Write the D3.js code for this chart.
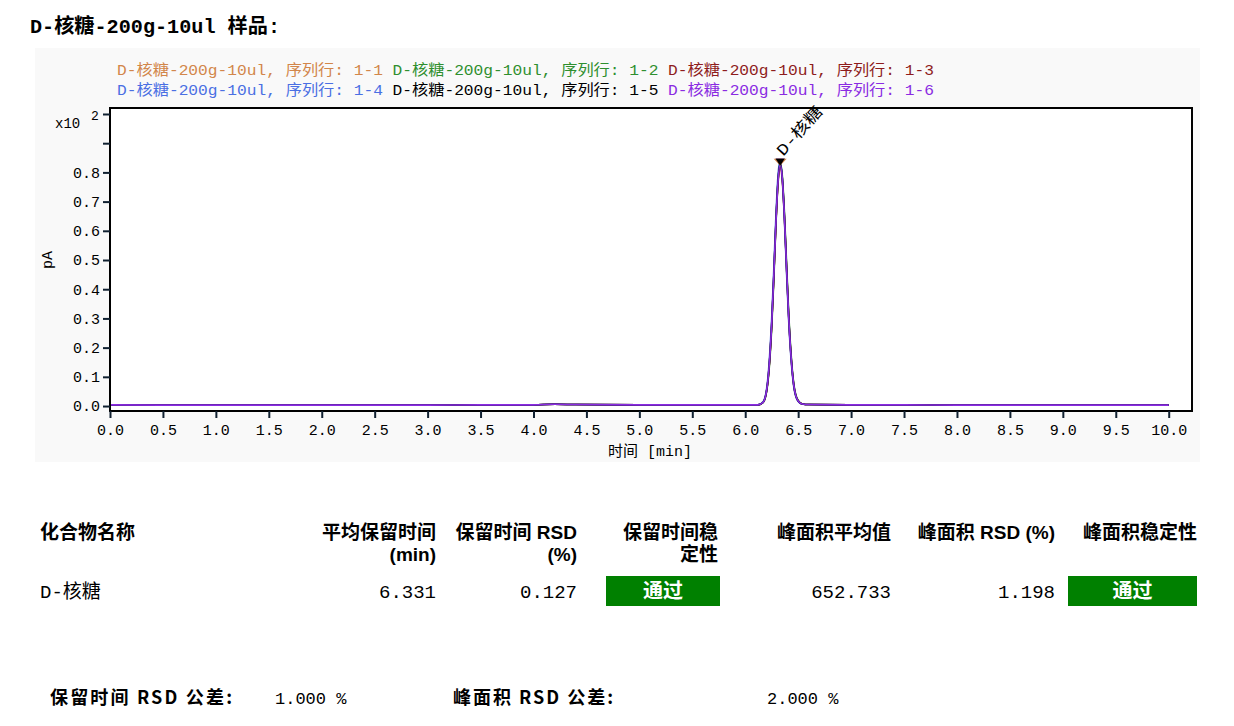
<!DOCTYPE html>
<html>
<head>
<meta charset="utf-8">
<script src="https://cdn.jsdelivr.net/npm/d3@7/dist/d3.min.js"></script>
<style>
  html, body { margin: 0; padding: 0; background: #fff; }
  svg { display: block; }
</style>
</head>
<body>
<div id="chart"></div>
<script>
// chromatogram overlay + stability table

const MONO = '"Liberation Mono", "Noto Sans CJK SC", monospace'
const CJK = '"Noto Sans CJK SC", "Liberation Sans", sans-serif'
const HEAD = '"Liberation Sans", "Noto Sans CJK SC", sans-serif'

// retention time axis (min)
const times = [0, 0.5, 1.0, 1.5, 2.0, 2.5, 3.0, 3.5, 4.0, 4.2, 4.4, 5.0, 5.5, 6.0,
  6.12, 6.17, 6.21, 6.25, 6.27, 6.29, 6.31, 6.33, 6.35, 6.37, 6.39, 6.41, 6.45, 6.49, 6.54, 6.6,
  7.0, 7.5, 8.0, 8.5, 9.0, 9.5, 10.0]

// signal (pA)
const run1 = [0.4, 0.3, 0.3, 0.3, 0.3, 0.3, 0.3, 0.4, 0.4, 0.6, 0.5, 0.4, 0.4, 0.4,
  0.4, 1.4, 7.6, 28.4, 45.0, 63.2, 77.2, 82.9, 77.9, 64.8, 47.4, 30.8, 9.6, 2.3, 0.7, 0.5,
  0.4, 0.4, 0.3, 0.3, 0.3, 0.3, 0.3]
const run2 = [0.4, 0.3, 0.3, 0.3, 0.3, 0.3, 0.3, 0.4, 0.4, 0.6, 0.5, 0.4, 0.4, 0.4,
  0.3, 1.2, 6.8, 26.5, 43.1, 61.9, 76.8, 83.4, 79.0, 66.6, 49.5, 32.6, 10.4, 2.6, 0.7, 0.5,
  0.4, 0.4, 0.3, 0.3, 0.3, 0.3, 0.3]
const run3 = [0.4, 0.3, 0.3, 0.3, 0.3, 0.3, 0.3, 0.4, 0.4, 0.6, 0.5, 0.4, 0.4, 0.4,
  0.4, 1.3, 7.2, 27.6, 44.2, 62.3, 76.2, 81.9, 77.1, 64.3, 47.1, 30.5, 9.5, 2.3, 0.7, 0.5,
  0.4, 0.4, 0.3, 0.3, 0.3, 0.3, 0.3]
const run4 = [0.4, 0.3, 0.3, 0.3, 0.3, 0.3, 0.3, 0.4, 0.4, 0.6, 0.5, 0.4, 0.4, 0.4,
  0.4, 1.6, 8.3, 30.2, 47.1, 65.4, 79.3, 84.0, 78.0, 63.9, 45.9, 29.4, 9.0, 2.1, 0.6, 0.5,
  0.4, 0.4, 0.3, 0.3, 0.3, 0.3, 0.3]
const run5 = [0.4, 0.3, 0.3, 0.3, 0.3, 0.3, 0.3, 0.4, 0.4, 0.6, 0.5, 0.4, 0.4, 0.4,
  0.4, 1.3, 7.3, 27.9, 44.6, 63.0, 77.3, 83.0, 78.3, 65.4, 48.1, 31.4, 9.9, 2.4, 0.7, 0.5,
  0.4, 0.4, 0.3, 0.3, 0.3, 0.3, 0.3]
const run6 = [0.4, 0.3, 0.3, 0.3, 0.3, 0.3, 0.3, 0.4, 0.4, 0.6, 0.5, 0.4, 0.4, 0.4,
  0.4, 1.3, 7.4, 28.0, 44.6, 62.8, 76.9, 82.7, 78.1, 65.1, 47.8, 31.1, 9.8, 2.4, 0.7, 0.5,
  0.4, 0.4, 0.3, 0.3, 0.3, 0.3, 0.3]

const seriesNames = ['1-1', '1-2', '1-3', '1-4', '1-5', '1-6']
const seriesColors = ['#d2864a', '#2f8f2f', '#8e1c1c', '#4a6fe3', '#000000', '#8a2be2']
const seriesValues = [run1, run2, run3, run4, run5, run6]

const xTicks = d3.range(0, 21).map(i => i * 0.5)
const yTicks = [0, 10, 20, 30, 40, 50, 60, 70, 80, 90, 100]

// summary table
const tableHeaders = [['化合物名称'], ['平均保留时间', '(min)'], ['保留时间 RSD', '(%)'], ['保留时间稳', '定性'],
  ['峰面积平均值'], ['峰面积 RSD (%)'], ['峰面积稳定性']]
const compound = 'D-核糖'
const meanRT = '6.331'
const rtRSD = '0.127'
const rtStatus = '通过'
const meanArea = '652.733'
const areaRSD = '1.198'
const areaStatus = '通过'
const rtTolerance = '1.000 %'
const areaTolerance = '2.000 %'

const W = 1234, H = 726
const svg = d3.select('#chart').append('svg').attr('width', W).attr('height', H)

// title
svg.append('text')
  .attr('x', 30).attr('y', 33)
  .attr('font-family', MONO).attr('font-weight', 'bold').attr('font-size', 20)
  .attr('textLength', 250).attr('lengthAdjust', 'spacingAndGlyphs')
  .text('D-核糖-200g-10ul 样品:')

// chart panel
svg.append('rect').attr('x', 35).attr('y', 48).attr('width', 1165).attr('height', 414).attr('fill', '#f9f9f9')

const plot = { left: 110, right: 1192, top: 108, bottom: 411 }
svg.append('rect')
  .attr('x', plot.left).attr('y', plot.top)
  .attr('width', plot.right - plot.left).attr('height', plot.bottom - plot.top)
  .attr('fill', '#fff')

const x = d3.scaleLinear().domain([0, 10.22]).range([plot.left, plot.right])
const y = d3.scaleLinear().domain([-1.7, 102.05]).range([plot.bottom, plot.top])

// legend (two rows of three)
const legend = svg.append('g')
seriesNames.forEach((name, i) => {
  legend.append('text')
    .attr('x', 117 + (i % 3) * 275.5)
    .attr('y', 75 + Math.floor(i / 3) * 20)
    .attr('font-family', MONO).attr('font-size', 15)
    .attr('fill', seriesColors[i])
    .attr('textLength', 266).attr('lengthAdjust', 'spacingAndGlyphs')
    .text(`D-核糖-200g-10ul, 序列行: ${name}`)
})

// traces
const line = d3.line()
  .x((d, i) => x(times[i]))
  .y(d => y(d))
  .curve(d3.curveMonotoneX)

svg.append('g')
  .selectAll('path')
  .data(seriesValues)
  .join('path')
  .attr('d', d => line(d))
  .attr('fill', 'none')
  .attr('stroke', (d, i) => seriesColors[i])
  .attr('stroke-width', 1.6)

// peak markers (orange drawn widest, black on top)
const apex = seriesValues.map((vals, i) => {
  const k = d3.maxIndex(vals)
  return { t: times[k], v: vals[k], color: seriesColors[i], i }
})
const markerOrder = [1, 2, 3, 5, 0, 4]
svg.append('g')
  .selectAll('path')
  .data(markerOrder.map(k => apex[k]))
  .join('path')
  .attr('d', d => {
    const cx = x(apex[4].t), top = y(apex[4].v) - 5
    const hw = d.i === 0 ? 6.5 : 4.5
    return `M${cx - hw},${top} L${cx + hw},${top} L${cx},${top + 7} Z`
  })
  .attr('fill', d => d.color)

// peak label
const lbl = apex[4]
svg.append('text')
  .attr('transform', `translate(${x(lbl.t) + 3},${y(lbl.v) - 7}) rotate(-48)`)
  .attr('font-family', MONO).attr('font-size', 16)
  .attr('textLength', 60).attr('lengthAdjust', 'spacingAndGlyphs')
  .text('D-核糖')

// frame
svg.append('rect')
  .attr('x', plot.left).attr('y', plot.top)
  .attr('width', plot.right - plot.left).attr('height', plot.bottom - plot.top)
  .attr('fill', 'none').attr('stroke', '#000').attr('stroke-width', 2)

// axes
const xAxis = svg.append('g')
  .attr('transform', `translate(0,${plot.bottom})`)
  .call(d3.axisBottom(x).tickValues(xTicks).tickSize(7).tickPadding(6).tickFormat(d3.format('.1f')))
const yAxis = svg.append('g')
  .attr('transform', `translate(${plot.left},0)`)
  .call(d3.axisLeft(y).tickValues(yTicks).tickSize(7).tickPadding(3)
    .tickFormat(d => (d === 90 || d === 100) ? '' : (d / 100).toFixed(1)))
;[xAxis, yAxis].forEach(g => {
  g.select('.domain').remove()
  g.selectAll('line').attr('stroke', '#102030').attr('stroke-width', 2)
  g.selectAll('text').attr('font-family', MONO).attr('font-size', 15).attr('fill', '#000')
})

// exponent label
svg.append('text').attr('x', 55).attr('y', 128)
  .attr('font-family', MONO).attr('font-size', 14).text('x10')
svg.append('text').attr('x', 91).attr('y', 120)
  .attr('font-family', MONO).attr('font-size', 13).text('2')

// axis titles
svg.append('text')
  .attr('transform', 'translate(52,260) rotate(-90)')
  .attr('text-anchor', 'middle')
  .attr('font-family', MONO).attr('font-size', 15)
  .text('pA')
svg.append('text')
  .attr('x', 650).attr('y', 456).attr('text-anchor', 'middle')
  .attr('font-family', MONO).attr('font-size', 15)
  .text('时间 [min]')

// table
const colRight = [null, 436, 577, 718, 891, 1055, 1197]
const head = svg.append('g')
  .attr('font-family', HEAD).attr('font-weight', 'bold').attr('font-size', 19)
tableHeaders.forEach((lines, c) => {
  const t = head.append('text').attr('y', 539)
  const xx = c === 0 ? 40 : colRight[c]
  if (c > 0) t.attr('text-anchor', 'end')
  lines.forEach((txt, r) => {
    t.append('tspan').attr('x', xx).attr('dy', r === 0 ? 0 : 22).text(txt)
  })
})

const row = svg.append('g').attr('font-family', MONO).attr('font-size', 19)
row.append('text').attr('x', 40).attr('y', 598).text(compound)
;[[meanRT, 1], [rtRSD, 2], [meanArea, 4], [areaRSD, 5]].forEach(([v, c]) => {
  row.append('text').attr('x', colRight[c]).attr('y', 598).attr('text-anchor', 'end').text(v)
})

const passBoxes = [[606, 720, rtStatus], [1068, 1197, areaStatus]]
passBoxes.forEach(([x0, x1, label]) => {
  svg.append('rect').attr('x', x0).attr('y', 576).attr('width', x1 - x0).attr('height', 30).attr('fill', '#008000')
  svg.append('text')
    .attr('x', (x0 + x1) / 2).attr('y', 598).attr('text-anchor', 'middle')
    .attr('font-family', CJK).attr('font-weight', 'bold').attr('font-size', 20).attr('fill', '#fff')
    .text(label)
})

// tolerances
const foot = svg.append('g').attr('font-size', 18)
foot.append('text').attr('x', 50).attr('y', 704).attr('font-family', CJK).attr('font-weight', 'bold')
  .attr('textLength', 182).attr('lengthAdjust', 'spacing').text('保留时间 RSD 公差:')
foot.append('text').attr('x', 275).attr('y', 704).attr('font-family', MONO).attr('font-size', 17).text(rtTolerance)
foot.append('text').attr('x', 453).attr('y', 704).attr('font-family', CJK).attr('font-weight', 'bold')
  .attr('textLength', 160).attr('lengthAdjust', 'spacing').text('峰面积 RSD 公差:')
foot.append('text').attr('x', 767).attr('y', 704).attr('font-family', MONO).attr('font-size', 17).text(areaTolerance)
</script>
</body>
</html>
